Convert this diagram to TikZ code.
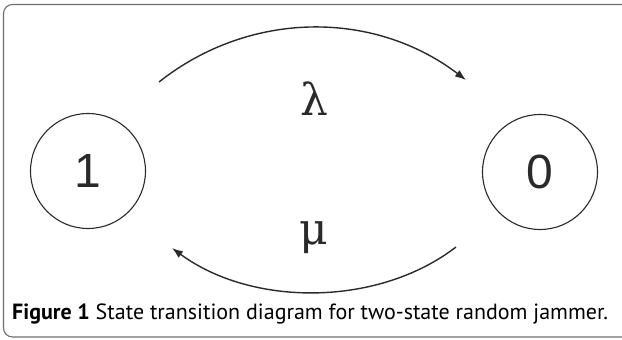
\documentclass[tikz,border=0pt]{standalone}
\usepackage{fontspec}
\setmainfont{Liberation Serif}
\newfontfamily\digitfont{Liberation Sans}
\newfontfamily\greekfont{DejaVu Serif}
\newfontfamily\capfont{PT Sans}
\usetikzlibrary{arrows.meta}
\definecolor{framegray}{HTML}{6E6E6E}
\definecolor{ink}{HTML}{2A2A2A}
\tikzset{
  statenode/.style={circle, draw=ink, line width=1.1pt, minimum size=115pt, inner sep=0pt, font=\digitfont\fontsize{48}{48}\selectfont, text=ink},
  greek/.style={inner sep=0pt, font=\greekfont\fontsize{44}{44}\selectfont, text=ink},
  trans/.style={draw=ink, line width=1.4pt, -{Latex[length=11pt,width=8pt]}},
}
\begin{document}
\begin{tikzpicture}[x=1pt,y=-1pt]
\useasboundingbox (0,0) rectangle (622,340);
\begin{scope}
\clip (0,0) rectangle (622,340);
\draw[framegray, line width=1.1pt, rounded corners=9pt] (3.5,4.5) rectangle (640,337);
\end{scope}
\node[statenode] (s1) at (88,171) {1};
\node[statenode] (s0) at (540,172) {0};
\coordinate (t1) at (159,82);
\coordinate (t2) at (466,80);
\coordinate (b1) at (456,247);
\coordinate (b2) at (172,248);
\draw[trans] (t1) .. controls (250,10) and (374,10) .. (t2);
\draw[trans] (b1) .. controls (378,307) and (252,307) .. (b2);
\node[greek] (lam) at (314,99) {λ};
\node[greek] (mu) at (314,238) {μ};
\node[anchor=base west, inner sep=0pt, font=\capfont\fontsize{22}{22}\selectfont, text=black] (cap) at (12,319) {\textbf{Figure 1} State transition diagram for two-state random jammer.};
\end{tikzpicture}
\end{document}
